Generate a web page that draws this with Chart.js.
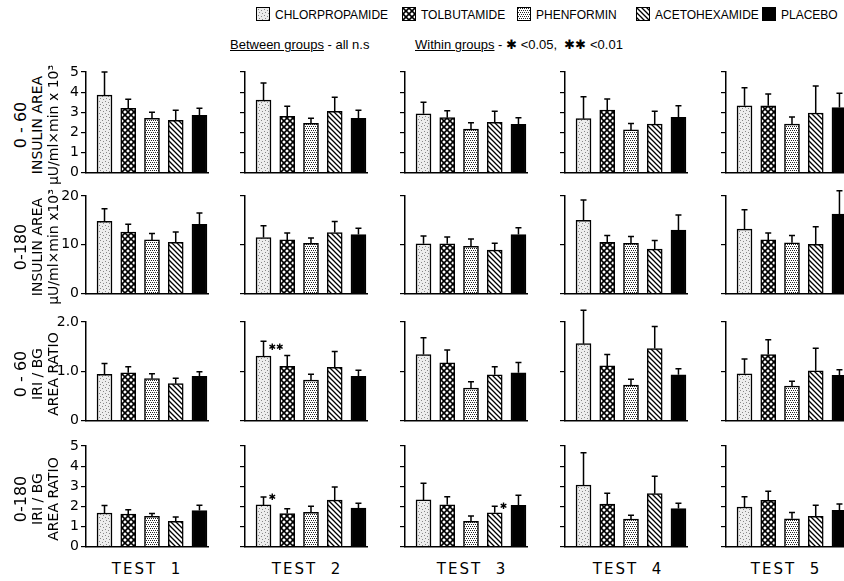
<!DOCTYPE html>
<html>
<head>
<meta charset="utf-8">
<script src="https://cdn.jsdelivr.net/npm/chart.js@4.4.0/dist/chart.umd.min.js"></script>
<style>
  body { margin: 0; background: #fff; }
  #page { position: relative; width: 844px; height: 581px; overflow: hidden; font-family: "Liberation Sans", sans-serif; color: #000; }
  canvas.panel { position: absolute; }
  .rowlab { position: absolute; white-space: nowrap; transform: translate(-50%, -50%) rotate(-90deg); font-family: "DejaVu Sans", sans-serif; font-size: 14px; }
  .rowlab.big { font-size: 16px; }
  .test { position: absolute; transform: translateX(-50%); top: 560px; font-family: "DejaVu Sans", sans-serif; font-size: 15px; letter-spacing: 2px; }
  .leg { position: absolute; top: 7px; font-family: "Liberation Sans", sans-serif; font-size: 12px; white-space: nowrap; }
  .leg canvas { vertical-align: -2px; margin-right: 5px; border: 1px solid #000; }
  .note { position: absolute; top: 37px; font-family: "Liberation Sans", sans-serif; font-size: 13px; white-space: nowrap; }
  .note u { text-decoration-thickness: 1px; }
</style>
</head>
<body>
<div id="page"></div>
<script>
const drugs = ['CHLORPROPAMIDE', 'TOLBUTAMIDE', 'PHENFORMIN', 'ACETOHEXAMIDE', 'PLACEBO'];
const tests = ['TEST  1', 'TEST  2', 'TEST  3', 'TEST  4', 'TEST  5'];

// 0-60 insulin area (uU/ml x min x 10^3), one row per test, one value per drug
const ins60Mean = [
  [3.85, 3.2, 2.7, 2.6, 2.85],
  [3.6, 2.8, 2.45, 3.05, 2.7],
  [2.92, 2.73, 2.16, 2.5, 2.4],
  [2.68, 3.11, 2.12, 2.41, 2.75],
  [3.32, 3.32, 2.41, 2.96, 3.23]
];
const ins60Upper = [
  [5.0, 3.65, 3.0, 3.1, 3.2],
  [4.45, 3.3, 2.7, 3.75, 3.1],
  [3.5, 3.08, 2.48, 3.05, 2.72],
  [3.77, 3.66, 2.44, 3.05, 3.32],
  [4.22, 3.91, 2.76, 4.3, 3.95]
];
// 0-180 insulin area
const ins180Mean = [
  [14.8, 12.6, 11.0, 10.5, 14.2],
  [11.5, 11.0, 10.3, 12.5, 12.1],
  [10.2, 10.2, 9.7, 8.9, 12.1],
  [15.0, 10.5, 10.3, 9.1, 13.0],
  [13.2, 11.0, 10.4, 10.1, 16.3]
];
const ins180Upper = [
  [17.4, 14.2, 12.3, 12.6, 16.5],
  [13.9, 12.4, 11.4, 14.8, 13.4],
  [11.8, 11.6, 11.2, 10.3, 13.5],
  [19.2, 11.9, 11.7, 10.9, 16.1],
  [17.2, 12.4, 11.9, 13.7, 21.1]
];
// 0-60 IRI/BG area ratio
const ratio60Mean = [
  [0.94, 0.97, 0.85, 0.75, 0.9],
  [1.31, 1.10, 0.82, 1.08, 0.9],
  [1.34, 1.17, 0.66, 0.93, 0.97],
  [1.56, 1.11, 0.72, 1.46, 0.93],
  [0.95, 1.34, 0.70, 1.01, 0.92]
];
const ratio60Upper = [
  [1.16, 1.09, 0.95, 0.86, 0.99],
  [1.61, 1.32, 0.94, 1.40, 1.02],
  [1.68, 1.43, 0.79, 1.09, 1.18],
  [2.24, 1.34, 0.84, 1.91, 1.05],
  [1.25, 1.64, 0.80, 1.47, 1.03]
];
// 0-180 IRI/BG area ratio
const ratio180Mean = [
  [1.67, 1.62, 1.5, 1.25, 1.79],
  [2.07, 1.64, 1.7, 2.31, 1.91],
  [2.32, 2.08, 1.26, 1.68, 2.05],
  [3.06, 2.11, 1.37, 2.63, 1.89],
  [1.97, 2.3, 1.38, 1.5, 1.8]
];
const ratio180Upper = [
  [2.04, 1.83, 1.65, 1.47, 2.05],
  [2.47, 1.88, 2.0, 2.96, 2.15],
  [3.15, 2.48, 1.52, 2.0, 2.55],
  [4.66, 2.65, 1.56, 3.5, 2.16],
  [2.48, 2.75, 1.7, 2.05, 2.12]
];

const rowMax = [5, 20, 2, 5];
const rowStep = [1, 10, 1, 1];
const rowTicks = [
  ['0', '1', '2', '3', '4', '5'],
  ['0', '10', '20'],
  ['0', '1.0', '2.0'],
  ['0', '1', '2', '3', '4', '5']
];
const rowLabels = [
  ['0 - 60', 'INSULIN AREA', 'μU/ml×min x 10³'],
  ['0-180', 'INSULIN AREA', 'μU/ml×min x10³'],
  ['0 - 60', 'IRI / BG', 'AREA RATIO'],
  ['0-180', 'IRI / BG', 'AREA RATIO']
];
// significance marks: row, test, drug, value level
const stars = [
  { row: 2, test: 1, drug: 0, at: 1.48, mark: '✱✱' },
  { row: 3, test: 1, drug: 0, at: 2.45, mark: '✱' },
  { row: 3, test: 2, drug: 3, at: 2.0, mark: '✱' }
];

const means = [ins60Mean, ins180Mean, ratio60Mean, ratio180Mean];
const uppers = [ins60Upper, ins180Upper, ratio60Upper, ratio180Upper];

// layout
const axisX = [86, 245, 405, 565, 726];
const rowTop = [72, 196, 322, 446];
const rowBottom = [177, 298, 425, 551];
const testX = [147, 307, 472, 628, 786];
const AXW = 30, PLOTW = 122, PADT = 14;

function makePattern(kind) {
  const c = document.createElement('canvas');
  const g = c.getContext('2d');
  if (kind === 0) {
    c.width = 6; c.height = 6;
    g.fillStyle = '#ededed'; g.fillRect(0, 0, 6, 6);
    g.fillStyle = '#888';
    [[1, 1], [4, 2], [2, 4], [5, 5]].forEach(p => g.fillRect(p[0], p[1], 1, 1));
  } else if (kind === 1) {
    c.width = 6; c.height = 6;
    g.fillStyle = '#fff'; g.fillRect(0, 0, 6, 6);
    g.strokeStyle = '#000'; g.lineWidth = 1.6;
    g.beginPath();
    g.moveTo(-1, -1); g.lineTo(7, 7);
    g.moveTo(-1, 7); g.lineTo(7, -1);
    g.stroke();
  } else if (kind === 2) {
    c.width = 4; c.height = 4;
    g.fillStyle = '#fff'; g.fillRect(0, 0, 4, 4);
    g.fillStyle = '#222';
    [[0, 0], [2, 0], [1, 2], [3, 2]].forEach(p => g.fillRect(p[0], p[1], 1, 1));
  } else if (kind === 3) {
    c.width = 5; c.height = 5;
    g.fillStyle = '#fff'; g.fillRect(0, 0, 5, 5);
    g.strokeStyle = '#000'; g.lineWidth = 1.3;
    g.beginPath();
    g.moveTo(-1, -1); g.lineTo(6, 6);
    g.moveTo(-1, 4); g.lineTo(1, 6);
    g.moveTo(4, -1); g.lineTo(6, 1);
    g.stroke();
  } else {
    c.width = 2; c.height = 2;
    g.fillStyle = '#000'; g.fillRect(0, 0, 2, 2);
  }
  return g.createPattern(c, 'repeat');
}

const page = document.getElementById('page');
const fills = drugs.map((d, i) => makePattern(i));

const errorBars = {
  id: 'errorBars',
  afterDatasetsDraw(chart, args, opts) {
    const ctx = chart.ctx;
    const y = chart.scales.y;
    const meta = chart.getDatasetMeta(0);
    ctx.save();
    ctx.strokeStyle = '#000';
    ctx.lineWidth = 1.5;
    meta.data.forEach((bar, i) => {
      const top = y.getPixelForValue(opts.upper[i]);
      ctx.beginPath();
      ctx.moveTo(bar.x, bar.y);
      ctx.lineTo(bar.x, top);
      ctx.moveTo(bar.x - 3, top);
      ctx.lineTo(bar.x + 3, top);
      ctx.stroke();
    });
    ctx.fillStyle = '#000';
    ctx.font = '9px "DejaVu Sans"';
    ctx.textBaseline = 'middle';
    opts.stars.forEach(s => {
      ctx.fillText(s.mark, meta.data[s.drug].x + 5, y.getPixelForValue(s.at));
    });
    ctx.restore();
  }
};

for (let r = 0; r < 4; r++) {
  for (let t = 0; t < 5; t++) {
    const cv = document.createElement('canvas');
    cv.className = 'panel';
    const H = rowBottom[r] - rowTop[r] + PADT + 2 + 4;
    const W = AXW + PLOTW + 6;
    cv.width = W; cv.height = H;
    cv.style.left = (axisX[t] - AXW) + 'px';
    cv.style.top = (rowTop[r] - PADT) + 'px';
    page.appendChild(cv);
    const first = t === 0;
    new Chart(cv, {
      type: 'bar',
      data: {
        labels: drugs,
        datasets: [{
          data: means[r][t].map((v, i) => ({ x: i, y: v })),
          backgroundColor: fills,
          borderColor: '#000',
          borderWidth: 1.5,
          borderSkipped: 'bottom',
          barThickness: 15
        }]
      },
      options: {
        responsive: false,
        animation: false,
        devicePixelRatio: 1,
        layout: { padding: { top: PADT, right: 6, bottom: 4, left: 0 } },
        scales: {
          x: {
            type: 'linear',
            min: -0.78,
            max: 4.36,
            offset: false,
            grid: { display: false },
            ticks: { display: false },
            border: { display: true, color: '#000', width: 1.5 },
            afterFit: s => { s.height = 2; }
          },
          y: {
            min: 0,
            max: rowMax[r],
            ticks: {
              stepSize: rowStep[r],
              color: '#000',
              padding: 2,
              font: { family: 'DejaVu Sans', size: 14 },
              callback: (v, i) => first ? rowTicks[r][i] : ''
            },
            grid: { drawOnChartArea: false, drawTicks: true, tickLength: 5, color: '#000', lineWidth: 1.2 },
            border: { display: true, color: '#000', width: 1.5 },
            afterFit: s => { s.width = AXW; }
          }
        },
        plugins: {
          legend: { display: false },
          tooltip: { enabled: false },
          errorBars: {
            upper: uppers[r][t],
            stars: stars.filter(s => s.row === r && s.test === t)
          }
        }
      },
      plugins: [errorBars]
    });
  }
}

// row labels
const lineX = [20, 37, 53];
rowLabels.forEach((lines, r) => {
  const cy = (rowTop[r] + rowBottom[r]) / 2;
  lines.forEach((txt, k) => {
    const d = document.createElement('div');
    d.className = k === 0 ? 'rowlab big' : 'rowlab';
    d.textContent = txt;
    d.style.left = lineX[k] + 'px';
    d.style.top = cy + 'px';
    page.appendChild(d);
  });
});

// test labels
tests.forEach((txt, t) => {
  const d = document.createElement('div');
  d.className = 'test';
  d.style.whiteSpace = 'pre';
  d.textContent = txt;
  d.style.left = testX[t] + 'px';
  page.appendChild(d);
});

// legend
const legX = [256, 402, 517, 636, 762];
drugs.forEach((name, i) => {
  const d = document.createElement('div');
  d.className = 'leg';
  d.style.left = legX[i] + 'px';
  const sw = document.createElement('canvas');
  sw.width = 12; sw.height = 12;
  const g = sw.getContext('2d');
  g.fillStyle = fills[i];
  g.fillRect(0, 0, 12, 12);
  d.appendChild(sw);
  d.appendChild(document.createTextNode(name));
  page.appendChild(d);
});

const n1 = document.createElement('div');
n1.className = 'note';
n1.style.left = '230px';
n1.innerHTML = '<u>Between groups</u> - all n.s';
page.appendChild(n1);
const n2 = document.createElement('div');
n2.className = 'note';
n2.style.left = '415px';
n2.innerHTML = '<u>Within groups</u> - ✱ &lt;0.05, &nbsp;✱✱ &lt;0.01';
page.appendChild(n2);
</script>
</body>
</html>
